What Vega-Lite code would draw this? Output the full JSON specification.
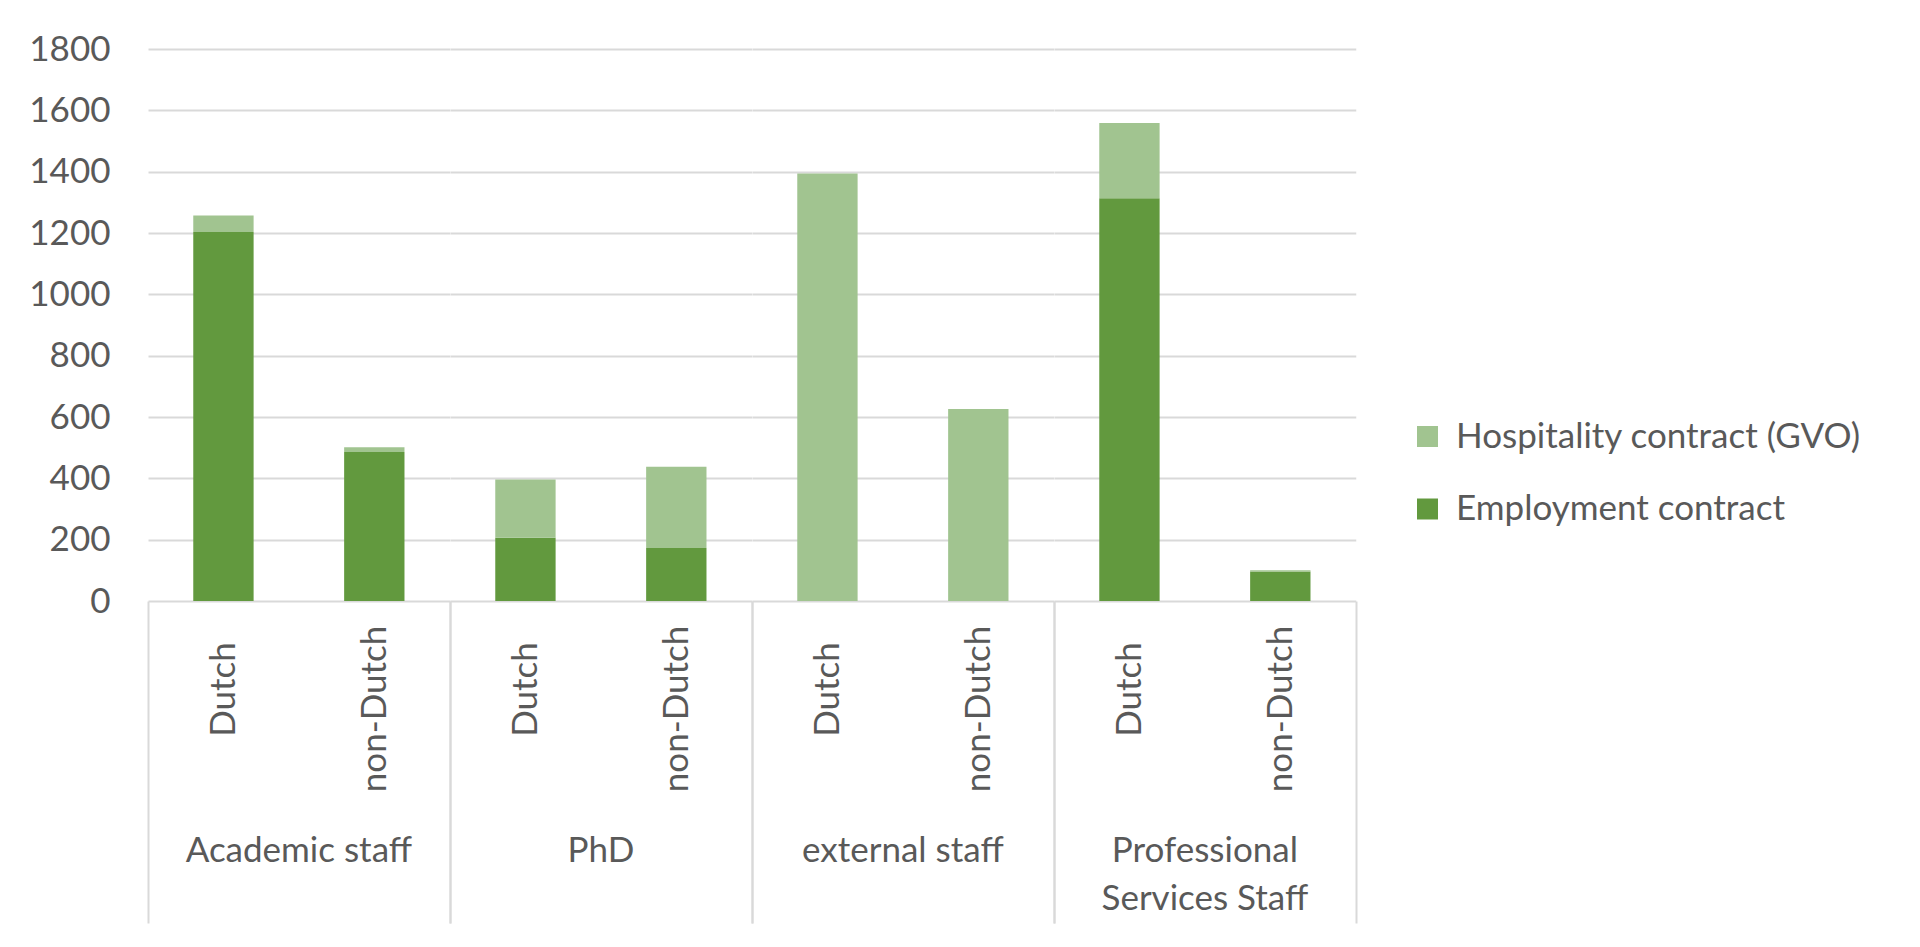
{
  "$schema": "https://vega.github.io/schema/vega-lite/v6.json",
  "description": "Staff by category and nationality, split by contract type.",
  "background": "white",
  "padding": {"left": 28, "top": 32, "right": 0, "bottom": 0},
  "data": {
    "values": [
      {"group": "Academic staff", "nationality": "Dutch", "contract": "Employment contract", "count": 1203},
      {"group": "Academic staff", "nationality": "Dutch", "contract": "Hospitality contract (GVO)", "count": 54},
      {"group": "Academic staff", "nationality": "non-Dutch", "contract": "Employment contract", "count": 486},
      {"group": "Academic staff", "nationality": "non-Dutch", "contract": "Hospitality contract (GVO)", "count": 15},
      {"group": "PhD", "nationality": "Dutch", "contract": "Employment contract", "count": 206},
      {"group": "PhD", "nationality": "Dutch", "contract": "Hospitality contract (GVO)", "count": 190},
      {"group": "PhD", "nationality": "non-Dutch", "contract": "Employment contract", "count": 173},
      {"group": "PhD", "nationality": "non-Dutch", "contract": "Hospitality contract (GVO)", "count": 265},
      {"group": "external staff", "nationality": "Dutch", "contract": "Employment contract", "count": 0},
      {"group": "external staff", "nationality": "Dutch", "contract": "Hospitality contract (GVO)", "count": 1394},
      {"group": "external staff", "nationality": "non-Dutch", "contract": "Employment contract", "count": 0},
      {"group": "external staff", "nationality": "non-Dutch", "contract": "Hospitality contract (GVO)", "count": 626},
      {"group": "Professional Services Staff", "nationality": "Dutch", "contract": "Employment contract", "count": 1313},
      {"group": "Professional Services Staff", "nationality": "Dutch", "contract": "Hospitality contract (GVO)", "count": 246},
      {"group": "Professional Services Staff", "nationality": "non-Dutch", "contract": "Employment contract", "count": 96},
      {"group": "Professional Services Staff", "nationality": "non-Dutch", "contract": "Hospitality contract (GVO)", "count": 4}
    ]
  },
  "facet": {
    "column": {
      "field": "group",
      "type": "nominal",
      "sort": ["Academic staff", "PhD", "external staff", "Professional Services Staff"],
      "title": null,
      "header": {
        "labelOrient": "bottom",
        "labelBaseline": "top",
        "labelPadding": -90,
        "labelFont": "Lato",
        "labelFontSize": 35,
        "labelColor": "#595959",
        "labelLimit": 0,
        "labelLineHeight": 47.5,
        "labelExpr": "datum.value == 'Professional Services Staff' ? ['Professional', 'Services Staff'] : datum.value"
      }
    }
  },
  "spacing": 0,
  "spec": {
    "width": 301.75,
    "height": 552,
    "mark": {"type": "bar", "width": {"band": 0.4}},
    "encoding": {
      "x": {
        "field": "nationality",
        "type": "nominal",
        "scale": {"paddingInner": 0, "paddingOuter": 0},
        "axis": {
          "title": null,
          "domain": false,
          "labelAngle": 270,
          "labelAlign": "center",
          "labelBaseline": "middle",
          "labelPadding": {"condition": {"test": "datum.value == 'Dutch'", "value": -234}, "value": -214.5},
          "labelFont": "Lato",
          "labelFontSize": 35,
          "labelColor": "#595959",
          "tickBand": "extent",
          "tickSize": 322,
          "tickWidth": 2,
          "tickColor": "#d9d9d9",
          "tickOpacity": {"condition": {"test": "datum.value == 'Dutch'", "value": 0}, "value": 1}
        }
      },
      "y": {
        "field": "count",
        "type": "quantitative",
        "stack": "zero",
        "scale": {"domain": [0, 1800]},
        "axis": {
          "title": null,
          "domain": false,
          "ticks": false,
          "format": "d",
          "values": [0, 200, 400, 600, 800, 1000, 1200, 1400, 1600, 1800],
          "labelPadding": 38,
          "labelFont": "Lato",
          "labelFontSize": 35,
          "labelColor": "#595959",
          "gridColor": "#d9d9d9",
          "gridWidth": 2
        }
      },
      "color": {
        "field": "contract",
        "type": "nominal",
        "scale": {
          "domain": ["Hospitality contract (GVO)", "Employment contract"],
          "range": ["#a1c490", "#62993e"]
        },
        "legend": {
          "title": null,
          "orient": "none",
          "legendX": 1262,
          "legendY": 370,
          "symbolType": "square",
          "symbolSize": 441,
          "symbolStrokeWidth": 0,
          "labelFont": "Lato",
          "labelFontSize": 35,
          "labelColor": "#595959",
          "labelLimit": 0,
          "labelOffset": 11,
          "rowPadding": 36.5
        }
      },
      "order": {"field": "contract", "sort": "ascending"}
    }
  },
  "config": {
    "view": {"stroke": null}
  }
}
